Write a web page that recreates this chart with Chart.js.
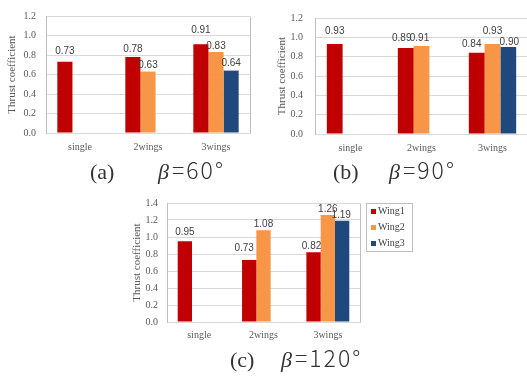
<!DOCTYPE html>
<html>
<head>
<meta charset="utf-8">
<script src="https://cdn.jsdelivr.net/npm/chart.js@4.4.0/dist/chart.umd.min.js"></script>
<style>
html, body { margin: 0; padding: 0; background: #fff; width: 527px; height: 378px; overflow: hidden; }
canvas { position: absolute; }
.cap { position: absolute; white-space: pre; line-height: 1; color: #333; }
.par { font-family: "Liberation Serif", serif; font-size: 22px; }
.beta { font-family: "Liberation Serif", serif; font-size: 22px; font-style: italic; }
.ang { font-family: "Noto Sans CJK KR", sans-serif; font-size: 23px; font-weight: 300; letter-spacing: 2px; }
</style>
</head>
<body>
<canvas id="chart60" width="262" height="160" style="left:0px;top:0px"></canvas>
<canvas id="chart90" width="268" height="161" style="left:262px;top:0px"></canvas>
<canvas id="chart120" width="295" height="161" style="left:125px;top:188px"></canvas>

<span class="cap par" style="left:90px;top:161px">(a)</span>
<span class="cap beta" style="left:158px;top:161px">β</span>
<span class="cap ang" style="left:172px;top:158px">=60°</span>

<span class="cap par" style="left:333px;top:161px">(b)</span>
<span class="cap beta" style="left:389px;top:161px">β</span>
<span class="cap ang" style="left:403px;top:158px">=90°</span>

<span class="cap par" style="left:230px;top:349px">(c)</span>
<span class="cap beta" style="left:281px;top:349px">β</span>
<span class="cap ang" style="left:295px;top:346px">=120°</span>

<script>
const categories = ["single", "2wings", "3wings"];
const seriesNames = ["Wing1", "Wing2", "Wing3"];
const seriesColors = ["#C00000", "#F79646", "#1F497D"];

// beta = 60
const wing1_60 = [0.73, 0.78, 0.91];
const wing2_60 = [null, 0.63, 0.83];
const wing3_60 = [null, null, 0.64];
// beta = 90
const wing1_90 = [0.93, 0.89, 0.84];
const wing2_90 = [null, 0.91, 0.93];
const wing3_90 = [null, null, 0.90];
// beta = 120
const wing1_120 = [0.95, 0.73, 0.82];
const wing2_120 = [null, 1.08, 1.26];
const wing3_120 = [null, null, 1.19];

const yMax60 = 1.2, yMax90 = 1.2, yMax120 = 1.4;
const yStep = 0.2;

const gridColor = "#D9D9D9";
const textColor = "#595959";

// small hand nudges for the value labels, [dx, dy] per dataset / category
const nudge60 = [[[0, -5], [0, -2], [0, -8]], [null, [0, 0], [0, 0]], [null, null, [0, -1]]];
const nudge90 = [[[0, -7], [-4, -4], [-5, -3]], [null, [-2, -2], [0, -7]], [null, null, [1, 1]]];
const nudge120 = [[[0, -3], [-5, -6], [-2, 0]], [null, [0, 0], [0, 0]], [null, null, [-1, 0]]];

// right side of the plot area (Excel style frame)
const plotFrame = {
    id: "plotFrame",
    beforeDatasetsDraw(chart) {
        var a = chart.chartArea;
        var ctx = chart.ctx;
        ctx.save();
        ctx.strokeStyle = "#BFBFBF";
        ctx.lineWidth = 1;
        var x = Math.round(a.right) + 0.5;
        ctx.beginPath();
        ctx.moveTo(x, Math.round(a.top) + 0.5);
        ctx.lineTo(x, Math.round(a.bottom) + 0.5);
        ctx.stroke();
        ctx.restore();
    }
};

const valueLabels = {
    id: "valueLabels",
    afterDatasetsDraw(chart, args, opts) {
        var ctx = chart.ctx;
        ctx.save();
        ctx.font = "10px 'Liberation Sans'";
        ctx.fillStyle = "#404040";
        ctx.textAlign = "center";
        ctx.textBaseline = "middle";
        chart.data.datasets.forEach(function(ds, i) {
            chart.getDatasetMeta(i).data.forEach(function(bar, j) {
                var v = ds.data[j];
                if (v == null) return;
                var n = (opts.nudge && opts.nudge[i] && opts.nudge[i][j]) || [0, 0];
                ctx.fillText(v.toFixed(2), bar.x + n[0], bar.y - 6 + n[1]);
            });
        });
        ctx.restore();
    }
};

// framed legend to the right of the plot
const boxLegend = {
    id: "boxLegend",
    afterDraw(chart, args, opts) {
        if (!opts.show) return;
        var ctx = chart.ctx;
        var x = Math.round(chart.chartArea.right) + opts.gap;
        var y = Math.round(chart.chartArea.top);
        ctx.save();
        ctx.strokeStyle = "#BFBFBF";
        ctx.lineWidth = 1;
        ctx.strokeRect(x + 0.5, y + 0.5, opts.width, opts.height);
        ctx.font = "10px 'Liberation Serif'";
        ctx.textBaseline = "middle";
        chart.data.datasets.forEach(function(ds, i) {
            var cy = y + 8 + i * 16;
            ctx.fillStyle = ds.backgroundColor;
            ctx.fillRect(x + 5, cy - 2, 5, 5);
            ctx.fillStyle = "#404040";
            ctx.fillText(ds.label, x + 12, cy);
        });
        ctx.restore();
    }
};

function drawChart(canvasId, w1, w2, w3, yMax, p) {
    var context = document.getElementById(canvasId).getContext("2d");
    var series = [w1, w2, w3];
    return new Chart(context, {
        type: "bar",
        data: {
            labels: categories,
            datasets: series.map(function(values, i) {
                return {
                    label: seriesNames[i],
                    data: values,
                    backgroundColor: seriesColors[i],
                    borderWidth: 0,
                    categoryPercentage: 0.667,
                    barPercentage: 1.0
                };
            })
        },
        options: {
            responsive: false,
            animation: false,
            layout: { padding: { top: p.top, right: p.right, left: 0, bottom: 0 } },
            plugins: {
                legend: { display: false },
                tooltip: { enabled: false },
                valueLabels: { nudge: p.nudge },
                boxLegend: { show: !!p.legend, gap: 6, width: 46, height: 48 }
            },
            scales: {
                x: {
                    grid: { display: false, drawTicks: false },
                    border: { display: true, color: gridColor },
                    ticks: { padding: p.xPad, color: textColor, font: { family: "Liberation Serif", size: 10 } },
                    afterFit: function(scale) { scale.height = 27; }
                },
                y: {
                    min: 0,
                    max: yMax,
                    grid: { color: gridColor, drawTicks: false },
                    border: { display: true, color: "#BFBFBF" },
                    ticks: {
                        stepSize: yStep,
                        padding: p.yPad,
                        color: textColor,
                        font: { family: "Liberation Serif", size: 10 },
                        callback: function(v) { return v.toFixed(1); }
                    },
                    title: {
                        display: true,
                        text: "Thrust coefficient",
                        color: textColor,
                        font: { family: "Liberation Serif", size: 11 },
                        padding: { top: p.titlePad, bottom: 0 }
                    },
                    afterFit: function(scale) { scale.width = p.yWidth; }
                }
            }
        },
        plugins: [plotFrame, valueLabels, boxLegend]
    });
}

window.onload = function() {
    drawChart("chart60", wing1_60, wing2_60, wing3_60, yMax60,
        { top: 14, right: 12, yWidth: 46, yPad: 10, titlePad: 6, xPad: 8, nudge: nudge60 });
    drawChart("chart90", wing1_90, wing2_90, wing3_90, yMax90,
        { top: 12, right: 2, yWidth: 53, yPad: 12, titlePad: 14, xPad: 8, nudge: nudge90 });
    drawChart("chart120", wing1_120, wing2_120, wing3_120, yMax120,
        { top: 14, right: 60, yWidth: 42, yPad: 9, titlePad: 6, xPad: 7, nudge: nudge120, legend: true });
};
</script>
</body>
</html>
